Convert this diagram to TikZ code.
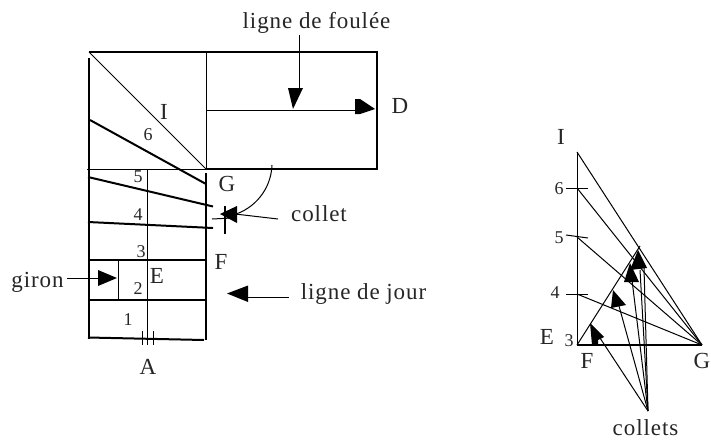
\documentclass[tikz,border=0pt]{standalone}
\usepackage{fontspec}
\setmainfont{Liberation Serif}
\newfontfamily\spaced[LetterSpace=4]{Liberation Serif}
\tikzset{
  x=1pt,y=-1pt,
  thick line/.style={line width=2.8pt},
  mid line/.style={line width=2pt},
  thin line/.style={line width=1pt},
  head/.style={fill=black,draw=none},
  lab/.style={font=\spaced\fontsize{23}{25}\selectfont,inner sep=0pt,text=black!85},
  word/.style={lab,anchor=base},
  num/.style={font=\fontsize{18}{20}\selectfont,inner sep=0pt,text=black!85}
}
\begin{document}
\begin{tikzpicture}
\useasboundingbox (0,0) rectangle (711,439);
\fill[white] (0,0) rectangle (711,439);
% coordinates
\coordinate (TL) at (89,52); \coordinate (TM) at (206,52); \coordinate (TR) at (377,52);
\coordinate (BR) at (377,169); \coordinate (BM) at (206,169);
\coordinate (Iax) at (577,152); \coordinate (Fax) at (577,345); \coordinate (Gax) at (702,345);
\coordinate (Cl) at (648,411);
% left plan
\draw[thick line] (TL) -- (TR) -- (BR) -- (BM);
\draw[thick line] (89,58) -- (89,339);
\draw[thin line] (TM) -- (BM);
\draw[thin line] (TL) -- (BM);
\draw[thin line] (87,169) -- (BM);
\draw[mid line] (90,120) -- (206,184);
\draw[thick line] (206,173) -- (206,340);
\draw[thin line] (147,169) -- (147,345);
\draw[mid line] (88,177) -- (213,206.5);
\draw[mid line] (88,222) -- (213,228);
\draw[mid line] (88,260) -- (206,260);
\draw[mid line] (88,300) -- (206,300);
\draw[mid line] (88,337.5) -- (204,340);
\draw[thin line] (142,331) -- (142,345);
\draw[thin line] (153,331) -- (153,345);
\draw[thin line] (118,260) -- (118,300);
% giron
\draw[thin line] (67,278) -- (100,278);
\fill[head] (98,270) -- (117,278) -- (98,286) -- cycle;
% collet
\draw[mid line] (225,206) -- (225,234);
\draw[thin line] (212,219) -- (232,218);
\fill[head] (220,214) -- (237,206) -- (237,223) -- cycle;
\draw[thin line] (278,219) -- (235,214);
\draw[thin line] (272,165) .. controls (271,190) and (254,209) .. (233,215);
% ligne de jour
\fill[head] (227,293.5) -- (248,285.5) -- (248,302) -- cycle;
\draw[thin line] (246,297) -- (289,297);
% ligne de foulee
\draw[thin line] (299,35) -- (299,90);
\fill[head] (288,88) -- (303,88) -- (293,109) -- cycle;
\draw[thin line] (206,110) -- (360,110);
\fill[head] (355,99) -- (360,99) -- (375,109) -- (360,114) -- (355,114) -- cycle;
% right figure
\draw[thin line] (Iax) -- (Fax);
\draw[mid line] (Fax) -- (Gax);
\draw[thin line] (Iax) -- (Gax);
\draw[thin line] (577,188) -- (Gax);
\draw[thin line] (577,237) -- (Gax);
\draw[thin line] (577,294) -- (Gax);
\draw[thin line] (566,188) -- (588,188);
\draw[thin line] (566,235) -- (588,238);
\draw[thin line] (566,294) -- (588,294);
\draw[thin line] (Fax) -- (640,246);
\draw[thin line] (Cl) -- (600,338);
\draw[thin line] (Cl) -- (619,306);
\draw[thin line] (Cl) -- (632,280);
\draw[thin line] (Cl) -- (640,270);
\draw[thin line] (Cl) -- (644,268);
\fill[head] (590,323) -- (604,337) -- (598,340) -- (598,345) -- (592,345) -- cycle;
\fill[head] (613,290) -- (626,305) -- (611,308) -- cycle;
\fill[head] (630,263) -- (639,282) -- (624,282) -- cycle;
\fill[head] (638,250) -- (647,268) -- (630,270) -- cycle;
% labels
\node[word] (foulee) at (316.5,28) {ligne de foulée};
\node[lab] (D) at (400,106) {D};
\node[lab] (I1) at (164,112) {I};
\node[num] (n6) at (148,135) {6};
\node[num] (n5) at (138,177) {5};
\node[num] (n4) at (138,215) {4};
\node[num] (n3) at (141,252) {3};
\node[num] (n2) at (138,289) {2};
\node[num] (n1) at (128,320) {1};
\node[lab] (G1) at (227,184) {G};
\node[lab] (F1) at (221,262) {F};
\node[lab] (E1) at (157,276) {E};
\node[lab] (A) at (148,367) {A};
\node[word] (giron) at (37.5,287) {giron};
\node[word] (collet) at (319,221) {collet};
\node[word] (jour) at (363.5,299) {ligne de jour};
\node[lab] (I2) at (561,137) {I};
\node[num] (r6) at (559,189) {6};
\node[num] (r5) at (559,238) {5};
\node[num] (r4) at (555,293) {4};
\node[lab] (E2) at (547,337) {E};
\node[num] (r3) at (569,341) {3};
\node[lab] (F2) at (587,361) {F};
\node[lab] (G2) at (702,361) {G};
\node[word] (collets) at (645.5,435) {collets};
\end{tikzpicture}
\end{document}
